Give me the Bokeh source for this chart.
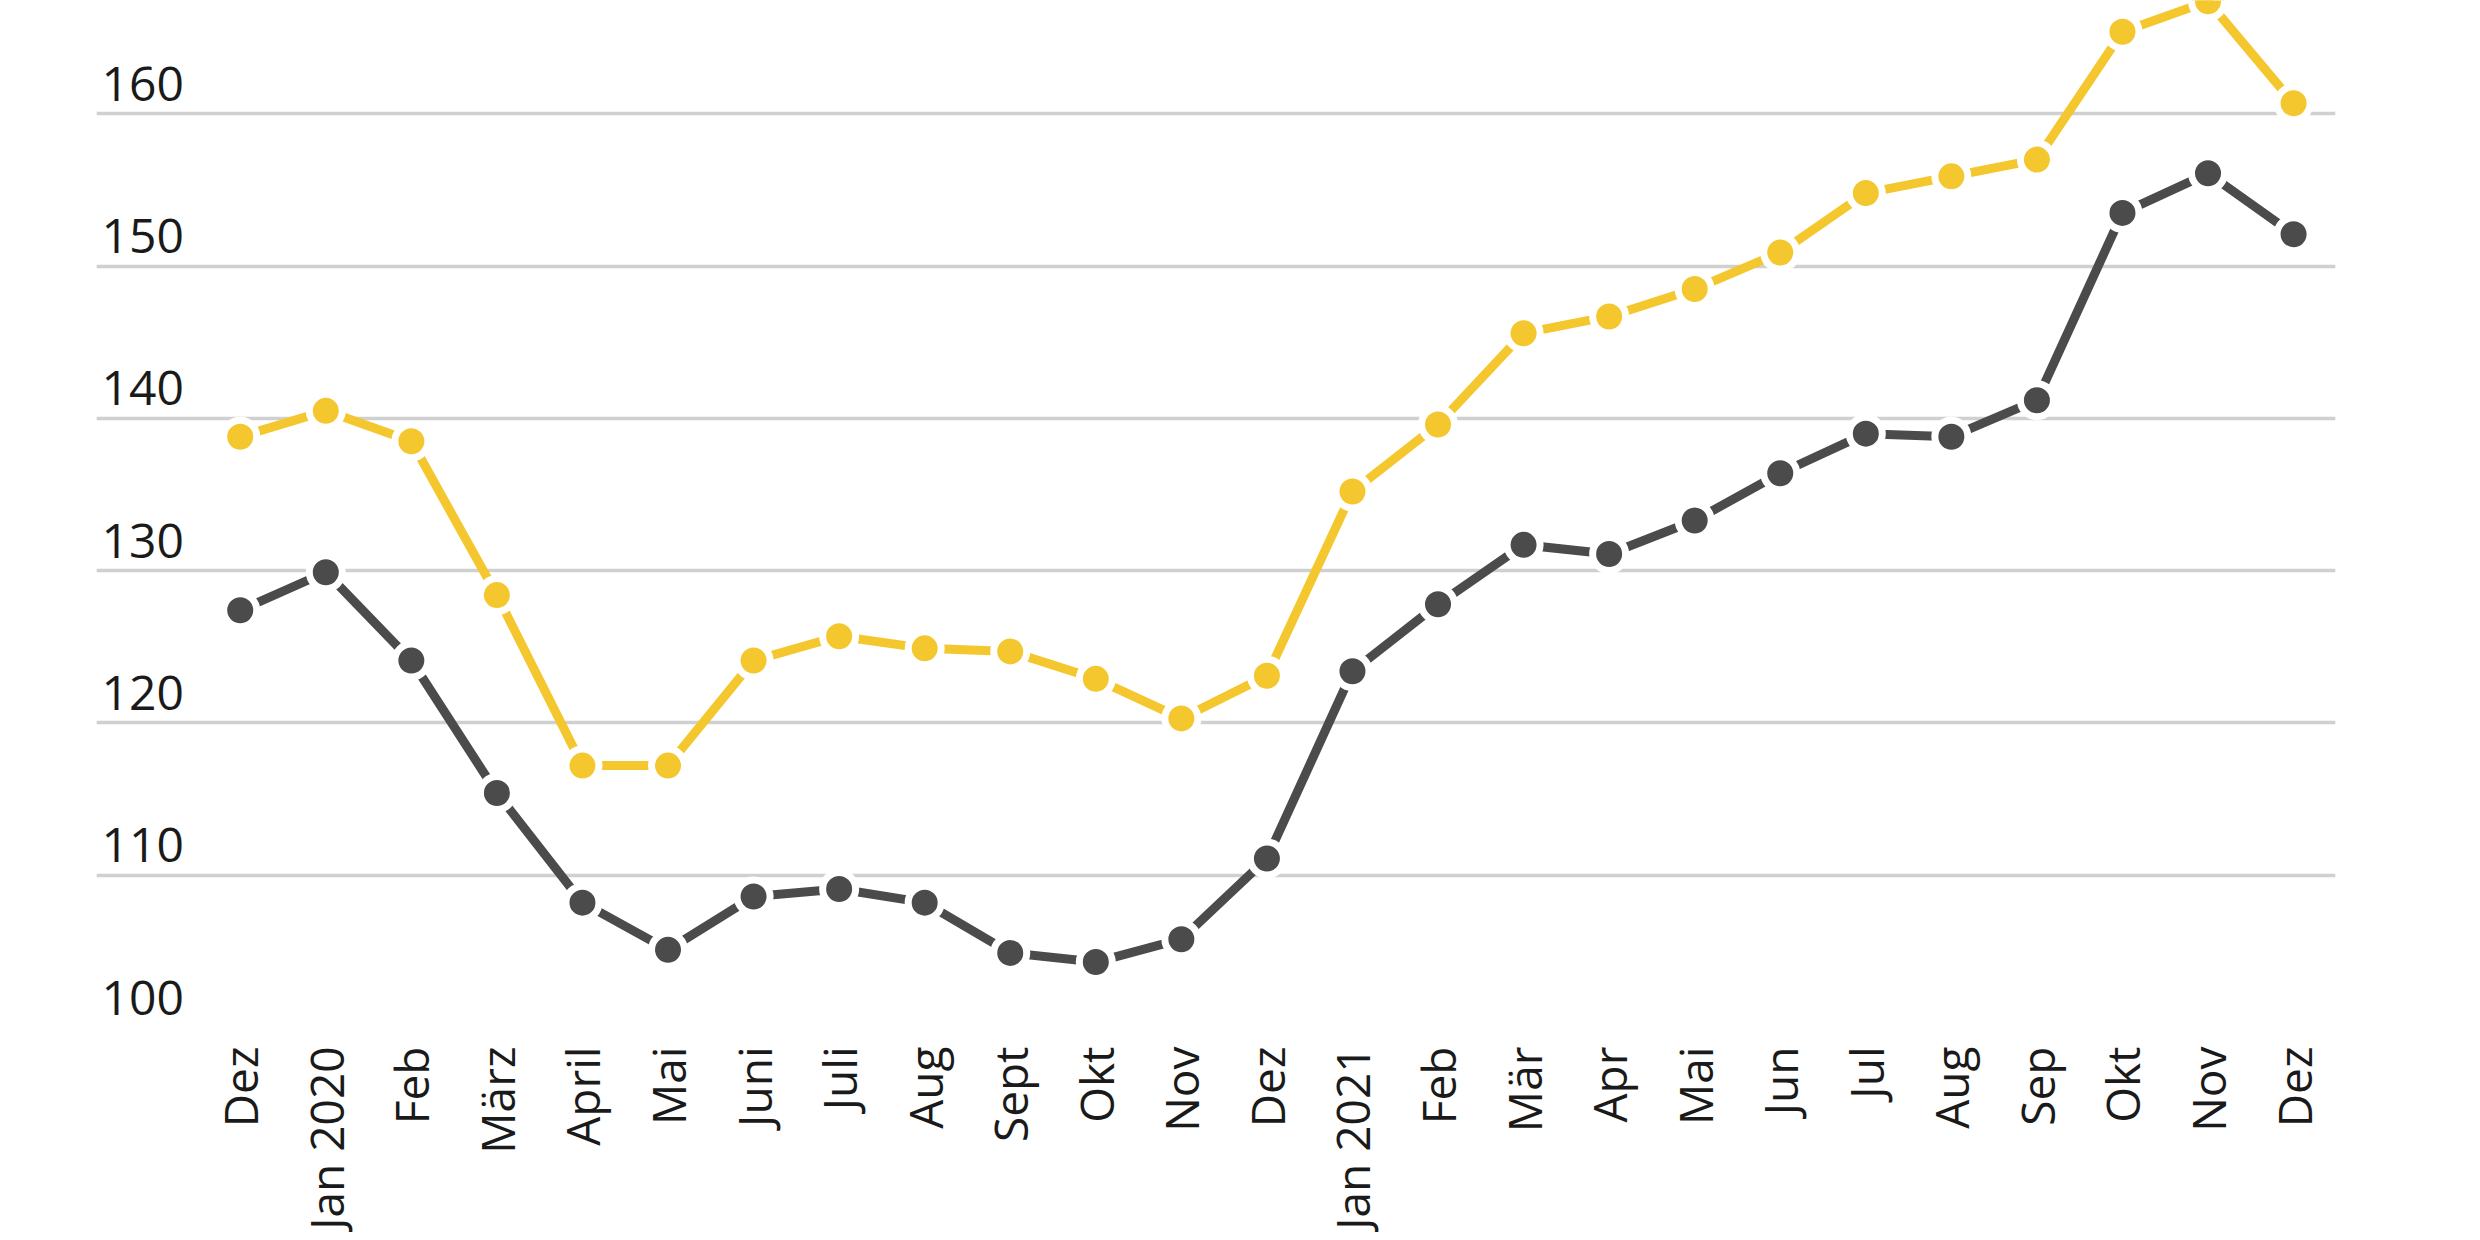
"""Price index 2019-2021: yellow vs grey series, markers with white halo"""
from math import pi

from bokeh.core.properties import value
from bokeh.embed import file_html
from bokeh.models import ColumnDataSource, FixedTicker, Grid, Range1d
from bokeh.plotting import figure
from bokeh.resources import INLINE

months = [
    "Dez", "Jan 2020", "Feb", "März", "April", "Mai", "Juni", "Juli", "Aug",
    "Sept", "Okt", "Nov", "Dez", "Jan 2021", "Feb", "Mär", "Apr", "Mai",
    "Jun", "Jul", "Aug", "Sep", "Okt", "Nov", "Dez",
]
yellow_values = [
    138.8, 140.5, 138.5, 128.4, 117.2, 117.2, 124.1, 125.7, 124.9, 124.7,
    122.9, 120.3, 123.1, 135.2, 139.6, 145.6, 146.7, 148.5, 150.9, 154.8,
    155.9, 157.0, 165.4, 167.4, 160.7,
]
grey_values = [
    127.4, 129.9, 124.1, 115.4, 108.2, 105.1, 108.6, 109.1, 108.2, 104.9,
    104.3, 105.8, 111.1, 123.4, 127.8, 131.7, 131.1, 133.3, 136.4, 139.0,
    138.8, 141.2, 153.5, 156.1, 152.1,
]
y_ticks = [100, 110, 120, 130, 140, 150, 160]

YELLOW = "#F5C72E"
GREY = "#4B4B4B"
TEXT = "#1A1A1A"
FONT = "Open Sans"

x_start, x_end = -1.68, 24.49
positions = list(range(len(months)))

plot = figure(
    width=2464,
    height=1232,
    x_range=Range1d(x_start, x_end),
    y_range=Range1d(100, 167.45),
    y_axis_location=None,
    toolbar_location=None,
    tools="",
    output_backend="svg",
    min_border_left=96,
    min_border_right=129,
    min_border_top=0,
    min_border_bottom=190,
)
plot.outline_line_color = None
plot.background_fill_color = "white"
plot.border_fill_color = "white"

# horizontal grid only
plot.add_layout(
    Grid(
        dimension=1,
        ticker=FixedTicker(ticks=y_ticks),
        grid_line_color="#D0D0D0",
        grid_line_width=3.5,
    )
)
plot.xgrid.visible = False

# x axis: month names, vertical
plot.xaxis.ticker = FixedTicker(ticks=positions)
plot.xaxis.major_label_overrides = {i: m for i, m in enumerate(months)}
plot.xaxis.major_label_orientation = pi / 2
plot.xaxis.major_label_text_font = FONT
plot.xaxis.major_label_text_font_size = "46px"
plot.xaxis.major_label_text_color = TEXT
plot.xaxis.major_label_standoff = 13
plot.xaxis.axis_line_color = None
plot.xaxis.major_tick_line_color = None
plot.xaxis.minor_tick_line_color = None

# y tick labels sit above the gridlines, inside the plot
plot.text(
    x=[x_start] * len(y_ticks),
    y=y_ticks,
    text=[str(t) for t in y_ticks],
    text_font=value(FONT),
    text_font_size="48px",
    text_color=TEXT,
    text_align="left",
    text_baseline="alphabetic",
    x_offset=5,
    y_offset=-30,
)

source = ColumnDataSource(data=dict(x=positions, yellow=yellow_values, grey=grey_values))

for col, color in (("yellow", YELLOW), ("grey", GREY)):
    plot.line(x="x", y=col, source=source, line_color=color, line_width=9)
    plot.scatter(
        x="x",
        y=col,
        source=source,
        size=33,
        fill_color=color,
        line_color="white",
        line_width=7,
    )

open("out.html", "w").write(file_html(plot, INLINE))
